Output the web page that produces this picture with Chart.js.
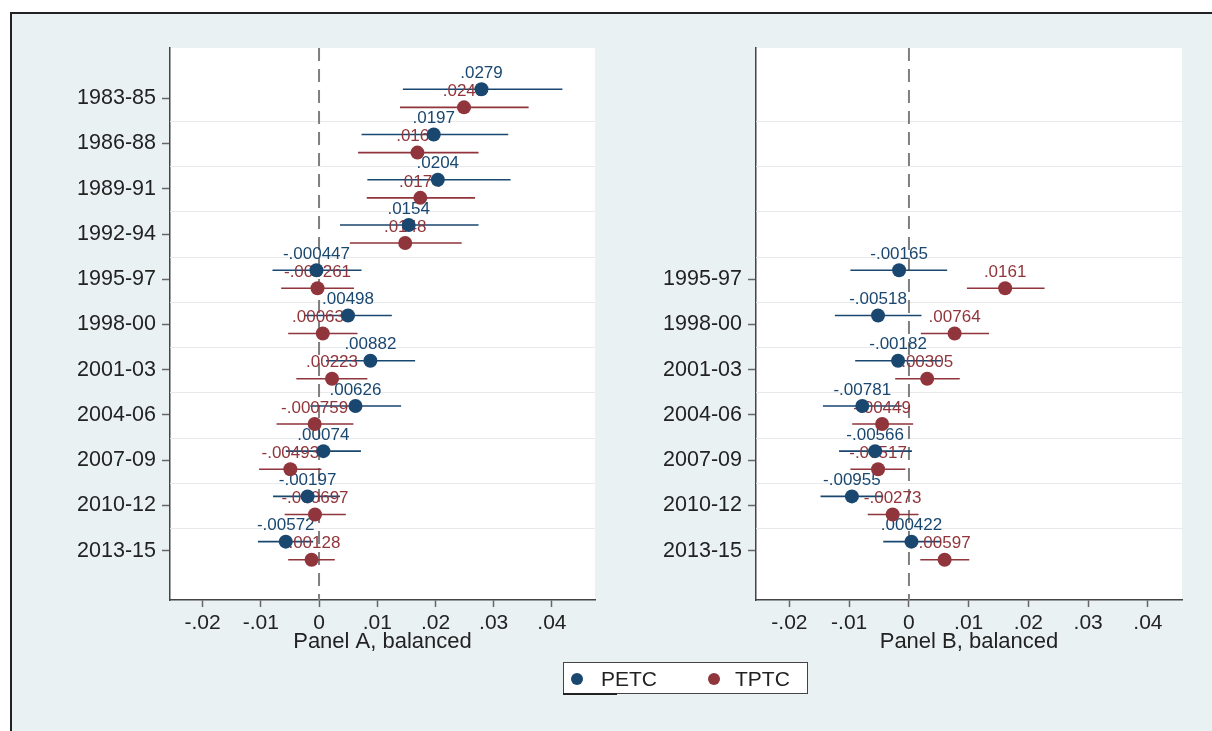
<!DOCTYPE html>
<html>
<head>
<meta charset="utf-8">
<script src="https://cdn.jsdelivr.net/npm/chart.js@4.4.1/dist/chart.umd.min.js"></script>
<style>
body { margin:0; background:#fff; font-family:"Liberation Sans", Arial, sans-serif; }
#frame { position:absolute; left:10px; top:12px; width:1202px; height:719px; box-sizing:border-box;
  border-left:2px solid #222; border-top:2px solid #222; background:#eaf1f3; }
canvas { position:absolute; top:0; }
#legend { position:absolute; left:563px; top:662px; width:245px; height:32px; box-sizing:border-box;
  border:1px solid #444; background:#fff; font-size:21px; color:#222; }
#legend span.dot { position:absolute; top:10px; width:12px; height:12px; border-radius:50%; }
#legend span.txt { position:absolute; top:4px; }
#legline { position:absolute; left:563px; top:693px; width:54px; height:2px; background:#222; }
</style>
</head>
<body>
<div id="frame"></div>
<canvas id="chartA" width="620" height="731" style="left:0px"></canvas>
<canvas id="chartB" width="592" height="731" style="left:620px"></canvas>
<div id="legend">
  <span class="dot" style="left:7px;background:#1a476f"></span><span class="txt" style="left:37px">PETC</span>
  <span class="dot" style="left:144px;background:#90353b"></span><span class="txt" style="left:171px">TPTC</span>
</div>
<div id="legline"></div>
<script>
var cats = ["1983-85","1986-88","1989-91","1992-94","1995-97","1998-00","2001-03","2004-06","2007-09","2010-12","2013-15"];
var xTicks = [-0.02,-0.01,0,0.01,0.02,0.03,0.04];
var xTickLabels = ["-.02","-.01","0",".01",".02",".03",".04"];

// Panel A, all periods
var aIdx = [0,1,2,3,4,5,6,7,8,9,10];
var aPetc   = [0.0279, 0.0197, 0.0204, 0.0154, -0.000447, 0.00498, 0.00882, 0.00626, 0.00074, -0.00197, -0.00572];
var aPetcLo = [0.0144, 0.0073, 0.0083, 0.0036, -0.0080, -0.0025, 0.0012, -0.0015, -0.0057, -0.0079, -0.0105];
var aPetcHi = [0.0418, 0.0325, 0.0329, 0.0274, 0.0073, 0.0125, 0.0165, 0.0141, 0.0072, 0.0036, -0.0010];
var aTptc   = [0.0249, 0.0169, 0.0174, 0.0148, -0.000261, 0.000638, 0.00223, -0.000759, -0.00493, -0.000697, -0.00128];
var aTptcLo = [0.0139, 0.0067, 0.0082, 0.0053, -0.0065, -0.0053, -0.0039, -0.0073, -0.0103, -0.0059, -0.0053];
var aTptcHi = [0.0360, 0.0274, 0.0268, 0.0245, 0.0060, 0.0066, 0.0083, 0.0059, 0.0004, 0.0046, 0.0027];

// Panel B, from 1995-97 on
var bIdx = [4,5,6,7,8,9,10];
var bPetc   = [-0.00165, -0.00518, -0.00182, -0.00781, -0.00566, -0.00955, 0.000422];
var bPetcLo = [-0.0098, -0.0124, -0.0090, -0.0144, -0.0117, -0.0148, -0.0043];
var bPetcHi = [0.0064, 0.0021, 0.0054, -0.0012, 0.0005, -0.0043, 0.0052];
var bTptc   = [0.0161, 0.00764, 0.00305, -0.00449, -0.00517, -0.00273, 0.00597];
var bTptcLo = [0.0097, 0.0020, -0.0023, -0.0095, -0.0098, -0.0069, 0.0019];
var bTptcHi = [0.0227, 0.0134, 0.0085, 0.0007, -0.0006, 0.0016, 0.0101];

var navy = "#1a476f";
var maroon = "#90353b";
var fontFam = "'Liberation Sans', Arial, sans-serif";

// stata %9.3g style
function fmt(v) {
    var s = Number(v.toPrecision(3)).toString();
    if (s.indexOf("e") > -1) s = v.toFixed(8).replace(/0+$/, "");
    return s.replace(/^(-?)0\./, "$1.");
}

function pts(idx, vals, off) {
    return idx.map(function(k, i){ return {x: vals[i], y: k + off}; });
}

function ciSegs(idx, lo, hi, off) {
    var out = [];
    idx.forEach(function(k, i){
        out.push({x: lo[i], y: k + off});
        out.push({x: hi[i], y: k + off});
        out.push({x: hi[i], y: null});
    });
    return out;
}

var panelPlugin = {
    id: "panelStuff",
    beforeDraw: function(chart) {
        var a = chart.chartArea, ctx = chart.ctx;
        ctx.save();
        ctx.fillStyle = "#fff";
        ctx.fillRect(a.left, a.top, a.right - a.left, a.bottom - a.top);
        ctx.restore();
    },
    beforeDatasetsDraw: function(chart) {
        var a = chart.chartArea, ctx = chart.ctx;
        var ys = chart.scales.y, xs = chart.scales.x;
        ctx.save();
        ctx.strokeStyle = "#e6eaec";
        ctx.lineWidth = 1;
        for (var i = 0; i < cats.length - 1; i++) {
            var py = Math.round(ys.getPixelForValue(i + 0.5)) + 0.5;
            ctx.beginPath();
            ctx.moveTo(a.left, py);
            ctx.lineTo(a.right, py);
            ctx.stroke();
        }
        var px = xs.getPixelForValue(0);
        ctx.strokeStyle = "#7f7f7f";
        ctx.lineWidth = 2;
        ctx.setLineDash([13, 8]);
        ctx.beginPath();
        ctx.moveTo(px, a.top);
        ctx.lineTo(px, a.bottom);
        ctx.stroke();
        ctx.restore();
    },
    afterDatasetDraw: function(chart, args) {
        if (args.index !== 2) return;
        var ctx = chart.ctx, xs = chart.scales.x, ys = chart.scales.y;
        ctx.save();
        ctx.font = "17px " + fontFam;
        ctx.textAlign = "center";
        ctx.textBaseline = "middle";
        [0, 1].forEach(function(d){
            var ds = chart.data.datasets[d];
            ctx.fillStyle = ds.backgroundColor;
            ds.data.forEach(function(p){
                ctx.fillText(fmt(p.x), xs.getPixelForValue(p.x), ys.getPixelForValue(p.y) - 16);
            });
        });
        ctx.restore();
    }
};

function makePanel(id, idx, petc, petcLo, petcHi, tptc, tptcLo, tptcHi, xMax, title, yW, padRight) {
    var ctx = document.getElementById(id).getContext("2d");
    return new Chart(ctx, {
        type: "scatter",
        data: {
            datasets: [
                {label: "PETC", data: pts(idx, petc, -0.2), backgroundColor: navy, pointRadius: 7, borderWidth: 0},
                {label: "TPTC", data: pts(idx, tptc, 0.2), backgroundColor: maroon, pointRadius: 7, borderWidth: 0},
                {label: "PETC ci", data: ciSegs(idx, petcLo, petcHi, -0.2), showLine: true, spanGaps: false,
                    borderColor: navy, borderWidth: 1.6, pointRadius: 0},
                {label: "TPTC ci", data: ciSegs(idx, tptcLo, tptcHi, 0.2), showLine: true, spanGaps: false,
                    borderColor: maroon, borderWidth: 1.6, pointRadius: 0}
            ]
        },
        options: {
            responsive: false,
            animation: false,
            devicePixelRatio: 1,
            layout: {padding: {top: 48, right: padRight, bottom: 76, left: 0}},
            plugins: {legend: {display: false}, tooltip: {enabled: false}},
            scales: {
                x: {
                    type: "linear",
                    min: -0.0256,
                    max: xMax,
                    afterBuildTicks: function(scale){ scale.ticks = xTicks.map(function(v){ return {value: v}; }); },
                    afterFit: function(scale){ scale.height = 55; },
                    border: {display: true, color: "#444", width: 1.5},
                    grid: {drawOnChartArea: false, drawTicks: true, tickLength: 7, tickColor: "#666", tickWidth: 1.5},
                    ticks: {autoSkip: false, maxRotation: 0, padding: 4, color: "#222",
                        font: {family: fontFam, size: 21},
                        callback: function(v, i){ return xTickLabels[i]; }},
                    title: {display: true, text: title, color: "#222", padding: 0,
                        font: {family: fontFam, size: 22}}
                },
                y: {
                    type: "linear",
                    reverse: true,
                    min: -1.112,
                    max: 11.09,
                    afterBuildTicks: function(scale){ scale.ticks = idx.map(function(k){ return {value: k}; }); },
                    afterFit: function(scale){ scale.width = yW; },
                    border: {display: true, color: "#444", width: 1.5},
                    grid: {drawOnChartArea: false, drawTicks: true, tickLength: 8, tickColor: "#666", tickWidth: 1.5},
                    ticks: {autoSkip: false, padding: 6, color: "#222",
                        font: {family: fontFam, size: 21.5},
                        callback: function(v){ return cats[v]; }}
                }
            }
        },
        plugins: [panelPlugin]
    });
}

var chartA = makePanel("chartA", aIdx, aPetc, aPetcLo, aPetcHi, aTptc, aTptcLo, aTptcHi, 0.0474, "Panel A, balanced", 170, 25);
var chartB = makePanel("chartB", bIdx, bPetc, bPetcLo, bPetcHi, bTptc, bTptcLo, bTptcHi, 0.0457, "Panel B, balanced", 136, 30);
</script>
</body>
</html>
